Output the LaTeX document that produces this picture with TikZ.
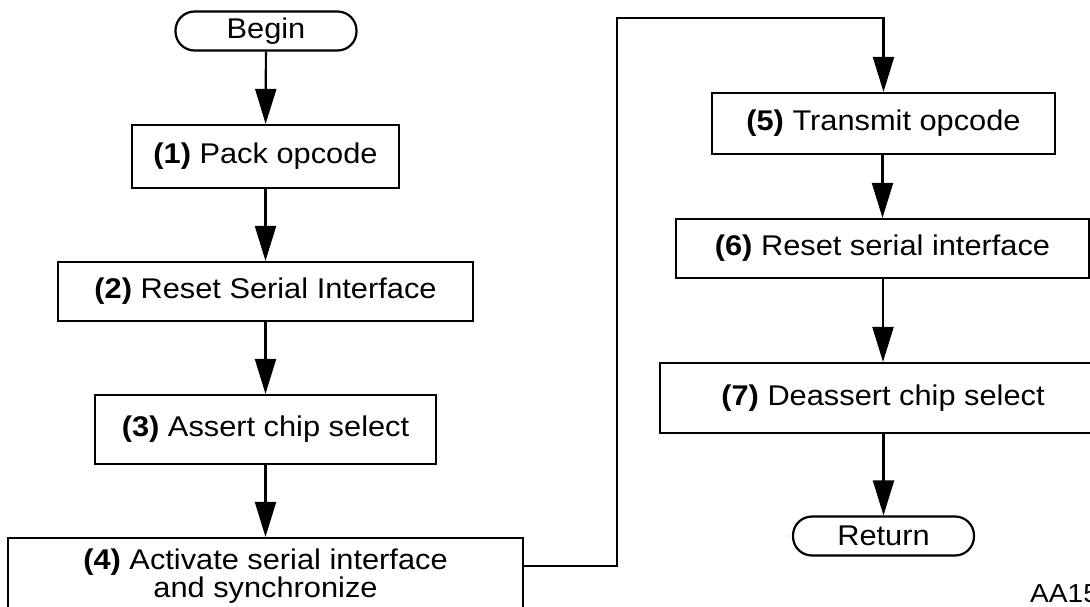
\documentclass[tikz,border=0pt]{standalone}
\usepackage{fontspec}
\setmainfont{Liberation Sans}[FakeStretch=1.08]
\usetikzlibrary{arrows.meta}
\begin{document}
\begin{tikzpicture}[x=1pt,y=-1pt,
  every node/.style={font=\fontsize{28.5}{27.5}\selectfont, inner sep=0pt},
  stepbox/.style={draw, line width=2.2pt, rectangle, align=center},
  term/.style={draw, line width=2.2pt, rectangle, rounded corners=19pt, minimum width=181pt, minimum height=39pt},
  arr/.style={line width=2.2pt, -{Triangle[length=35pt,width=21pt]}}
]
\useasboundingbox (0,0) rectangle (1090,607);
\clip (0,0) rectangle (1090,607);

\node[term] (b) at (266,31) {Begin};
\node[stepbox, minimum width=267pt, minimum height=63pt] (n1) at (265.5,156.5) {\textbf{(1)} Pack opcode};
\node[stepbox, minimum width=415pt, minimum height=59pt] (n2) at (265.5,291.5) {\textbf{(2)} Reset Serial Interface};
\node[stepbox, minimum width=341pt, minimum height=69pt] (n3) at (265.5,429.5) {\textbf{(3)} Assert chip select};
\node[stepbox, minimum width=515pt, minimum height=76pt] (n4) at (265.5,576) {\textbf{(4)} Activate serial interface\\and synchronize};

\node[stepbox, minimum width=343pt, minimum height=61pt] (n5) at (883.5,123.5) {\textbf{(5)} Transmit opcode};
\node[stepbox, minimum width=413pt, minimum height=59pt] (n6) at (882.5,248.5) {\textbf{(6)} Reset serial interface};
\node[stepbox, minimum width=446pt, minimum height=70pt] (n7) at (883,398) {\textbf{(7)} Deassert chip select};
\node[term] (r) at (883.5,536) {Return};

\node[anchor=base west, font=\fontsize{26}{26}\selectfont] (lbl) at (1030,602) {AA15};

\draw[arr] (b) -- (n1);
\draw[arr] (n1) -- (n2);
\draw[arr] (n2) -- (n3);
\draw[arr] (n3) -- (n4);
\coordinate (c1) at (617,566);
\coordinate (c2) at (617,18);
\draw[arr] (n4.east |- c1) -- (c1) -- (c2) -- (c2 -| n5.north) -- (n5.north);
\draw[arr] (n5.south -| n6.north) -- (n6.north);
\draw[arr] (n6.south -| n7.north) -- (n7.north);
\draw[arr] (n7.south -| r.north) -- (r.north);
\end{tikzpicture}
\end{document}
